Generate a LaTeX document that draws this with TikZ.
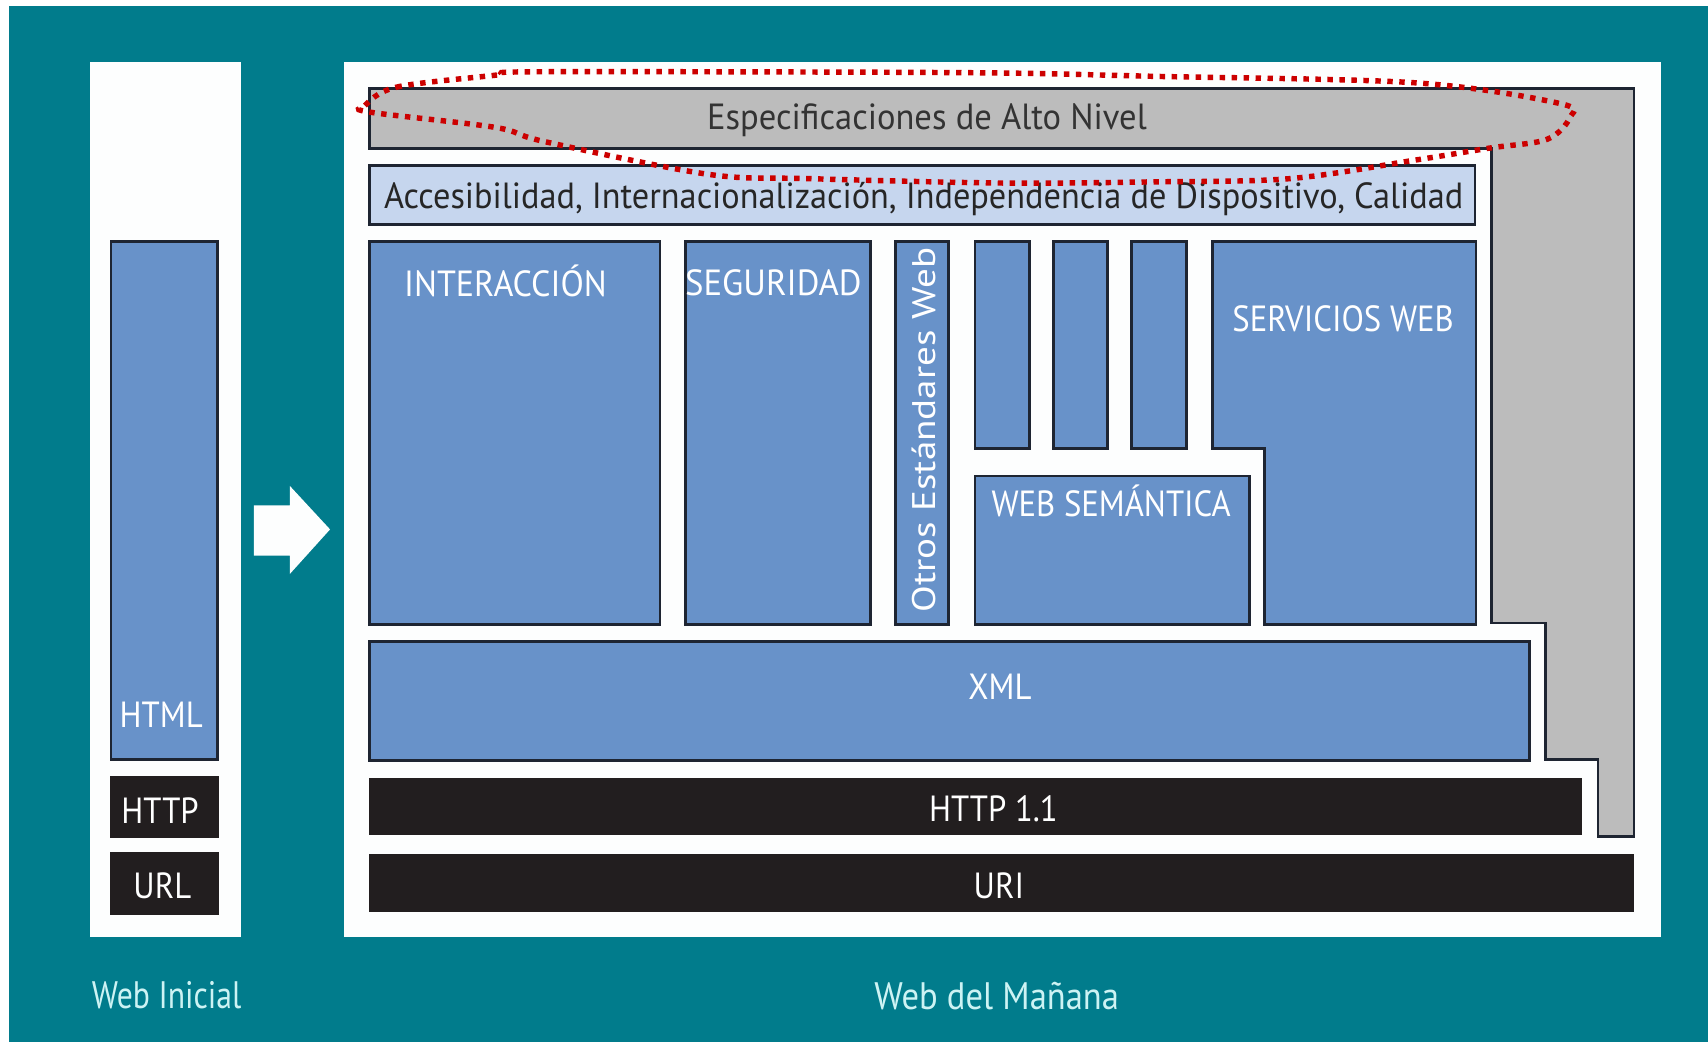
\documentclass[tikz,border=0pt]{standalone}
\usepackage{fontspec}
\setmainfont{PT Sans}
\definecolor{fondo}{HTML}{017C8C}
\definecolor{azulcapa}{HTML}{6892C9}
\definecolor{azulclaro}{HTML}{C6D6EE}
\definecolor{griscapa}{HTML}{BCBCBC}
\definecolor{negrocapa}{HTML}{221E1F}
\definecolor{borde}{HTML}{1E2532}
\definecolor{rojo}{HTML}{CC0000}
\definecolor{rotulo}{HTML}{CDF3F4}
\definecolor{blanco}{HTML}{FDFEFE}
\begin{document}
\begin{tikzpicture}[x=0.1mm, y=-0.1mm,
    capa/.style={draw=borde, line width=0.25mm, fill=azulcapa},
    negra/.style={fill=negrocapa},
    txt/.style={text=white, font=\fontsize{9.5}{11}\selectfont, inner sep=0pt, anchor=base, xscale=0.9},
    txtoscuro/.style={txt, text=black!85},
    pie/.style={txt, text=rotulo, font=\fontsize{10}{12}\selectfont, xscale=0.92},
    lazo/.style={draw=rojo, line width=0.5mm, dash pattern=on 0.5mm off 0.6mm}]
  \useasboundingbox (0,0) rectangle (1568,957);
  % fondo y paneles
  \fill[fondo] (8,5.5) rectangle (1568,957);
  \fill[blanco] (83,57) rectangle (221,860);
  \fill[blanco] (316,57) rectangle (1525,860);
  % web inicial
  \filldraw[capa] (102,222) rectangle (200,697);
  \fill[negra] (101,712) rectangle (201,769);
  \fill[negra] (101,782) rectangle (201,840);
  \node[txt] (html) at (148,668) {HTML};
  \node[txt] (http) at (147,756) {HTTP};
  \node[txt] (url) at (149,825) {URL};
  % flecha
  \fill[blanco] (233,464) -- (266,464) -- (266,446) -- (303,486) -- (266,527) -- (266,510) -- (233,510) -- cycle;
  % web del manana
  \filldraw[draw=borde, line width=0.25mm, fill=griscapa] (339,81) -- (1500,81) -- (1500,768) -- (1467,768) -- (1467,697)
    -- (1419,697) -- (1419,572) -- (1369,572) -- (1369,136) -- (339,136) -- cycle;
  \filldraw[capa, fill=azulclaro] (339,152) rectangle (1354,206);
  \filldraw[capa] (339,222) rectangle (606,573);
  \filldraw[capa] (629,222) rectangle (799,573);
  \filldraw[capa] (822,222) rectangle (871,573);
  \foreach \xa in {895,967,1039}
    \filldraw[capa] (\xa,222) rectangle (\xa+50,412);
  \filldraw[capa] (1113,222) -- (1355,222) -- (1355,573) -- (1161,573) -- (1161,412) -- (1113,412) -- cycle;
  \filldraw[capa] (895,437) rectangle (1147,573);
  \filldraw[capa] (339,589) rectangle (1404,698);
  \fill[negra] (339,714) rectangle (1452,767);
  \fill[negra] (339,784) rectangle (1500,837);
  \node[txtoscuro, text=black!80, xscale=1.055] (alto) at (851,119) {Especificaciones de Alto Nivel};
  \node[txtoscuro, xscale=1.048] (acc) at (848,191) {Accesibilidad, Internacionalización, Independencia de Dispositivo, Calidad};
  \node[txt, xscale=1.04] (inter) at (464,272) {INTERACCIÓN};
  \node[txt, xscale=1.06] (seg) at (710,271) {SEGURIDAD};
  \node[txt, rotate=90, xscale=1.075] (otros) at (859,395) {Otros Estándares Web};
  \node[txt] (serv) at (1233,304) {SERVICIOS WEB};
  \node[txt] (sem) at (1020,474) {WEB SEMÁNTICA};
  \node[txt] (xml) at (918,642) {XML};
  \node[txt] (http11) at (912,754) {HTTP 1.1};
  \node[txt] (uri) at (917,825) {URI};
  % lazo rojo
  \draw[lazo] plot[smooth cycle, tension=0.55] coordinates {(335,97) (364,80) (455,69) (480,66) (700,66) (918,67)
    (1056,70) (1299,76) (1432,95) (1441,108) (1420,128) (1367,136) (1299,147) (1184,164) (1056,167) (918,168)
    (743,164) (650,160) (500,130) (455,117) (340,103)};
  % rotulos
  \node[pie] (ini) at (153,926) {Web Inicial};
  \node[pie, xscale=1.09] (man) at (915,927) {Web del Mañana};
\end{tikzpicture}
\end{document}
